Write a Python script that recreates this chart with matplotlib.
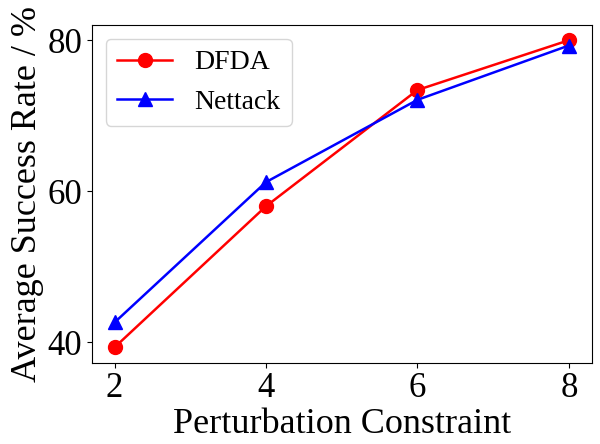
import matplotlib.pyplot as plt

constraints = [2, 4, 6, 8]
dfda = [39.3, 58.0, 73.4, 80.0]
nettack = [42.6, 61.2, 72.1, 79.3]

plt.rcParams['font.family'] = ['Liberation Serif', 'DejaVu Serif']

fig = plt.figure(figsize=(6, 4.44), dpi=100)
ax = fig.add_axes([0.153, 0.183, 0.833, 0.761])
ax.plot(constraints, dfda, color='red', marker='o', markersize=10, linewidth=1.8, label='DFDA')
ax.plot(constraints, nettack, color='blue', marker='^', markersize=10, linewidth=1.8, label='Nettack')
ax.set_xticks(constraints)
ax.set_yticks([40, 60, 80])
ax.tick_params(labelsize=25)
ax.set_xlabel('Perturbation Constraint', fontsize=26, labelpad=2)
ax.set_ylabel('Average Success Rate / %', fontsize=26, labelpad=2)
ax.legend(fontsize=20, loc='upper left')
fig.savefig('out.png', dpi=100)
